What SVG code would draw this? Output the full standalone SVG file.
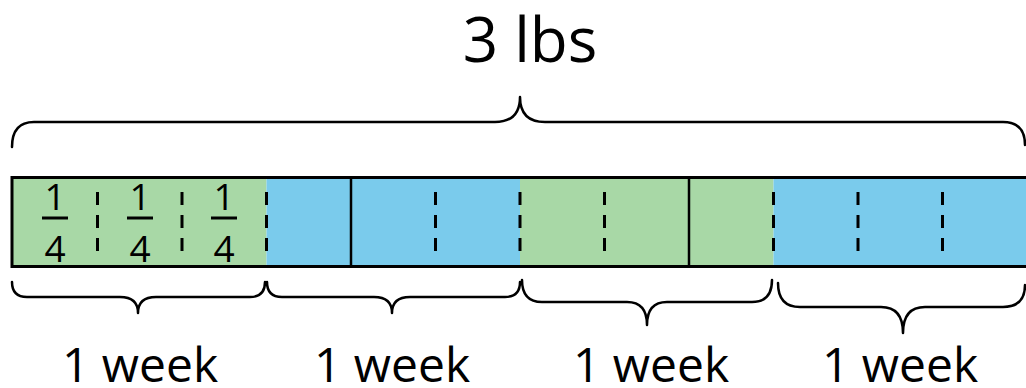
<svg xmlns="http://www.w3.org/2000/svg" width="1026" height="388" viewBox="0 0 1026 388">
<style>
.green{fill:#a8d8a6}
.blue{fill:#7acbec}
.border{fill:none;stroke:#000;stroke-width:3}
.solid{stroke:#000;stroke-width:2.5}
.dash{stroke:#000;stroke-width:3;stroke-dasharray:13 10}
.brace{fill:none;stroke:#000;stroke-width:2.5;stroke-linecap:round;stroke-linejoin:round}
.fbar{stroke:#000;stroke-width:3}
.t{font-family:"Open Sans","Liberation Sans",sans-serif;fill:#000;text-anchor:middle}
.frac{font-size:37px}
.week{font-size:48px}
.title{font-size:62px}
</style>
<rect width="1026" height="388" fill="#fff"/>
<g id="bar">
<rect class="green" x="13" y="178" width="253.5" height="88"/>
<rect class="blue" x="266.5" y="178" width="253.5" height="88"/>
<rect class="green" x="520" y="178" width="253.5" height="88"/>
<rect class="blue" x="773.5" y="178" width="253.5" height="88"/>
<line class="dash" x1="97.5" y1="192" x2="97.5" y2="254"/>
<line class="dash" x1="182" y1="192" x2="182" y2="254"/>
<line class="dash" x1="266.5" y1="192" x2="266.5" y2="254"/>
<line class="solid" x1="351" y1="178" x2="351" y2="266"/>
<line class="dash" x1="435.5" y1="192" x2="435.5" y2="254"/>
<line class="dash" x1="520" y1="192" x2="520" y2="254"/>
<line class="dash" x1="604.5" y1="192" x2="604.5" y2="254"/>
<line class="solid" x1="689" y1="178" x2="689" y2="266"/>
<line class="dash" x1="773.5" y1="192" x2="773.5" y2="254"/>
<line class="dash" x1="858" y1="192" x2="858" y2="254"/>
<line class="dash" x1="942.5" y1="192" x2="942.5" y2="254"/>
<rect class="border" x="12" y="177.5" width="1020" height="89"/>
</g>
<g id="fractions">
<g id="frac1">
<text class="t frac" x="55" y="210">1</text>
<line class="fbar" x1="42" y1="218" x2="68" y2="218"/>
<text class="t frac" x="55" y="262">4</text>
</g>
<g id="frac2">
<text class="t frac" x="140" y="210">1</text>
<line class="fbar" x1="127" y1="218" x2="153" y2="218"/>
<text class="t frac" x="140" y="262">4</text>
</g>
<g id="frac3">
<text class="t frac" x="224" y="210">1</text>
<line class="fbar" x1="211" y1="218" x2="237" y2="218"/>
<text class="t frac" x="224" y="262">4</text>
</g>
</g>
<g id="braces">
<path class="brace" d="M12,147 Q12,122 34,122 L495,122 Q520,122 520,97 Q520,122 545,122 L1003,122 Q1025,122 1025,145"/>
<path class="brace" d="M12,282 Q12,297 27,297 L120,297 Q138,297 138,313 Q138,297 156,297 L250,297 Q265,297 265,282"/>
<path class="brace" d="M267,282 Q267,297 282,297 L374,297 Q392,297 392,313 Q392,297 410,297 L505,297 Q520,297 520,282"/>
<path class="brace" d="M522,280 Q522,302 542,302 L627,302 Q647,302 647,325 Q647,302 667,302 L752,302 Q772,302 772,280"/>
<path class="brace" d="M778,283 Q778,307 800,307 L881,307 Q903,307 903,333 Q903,307 925,307 L1003,307 Q1025,307 1025,285"/>
</g>
<g id="labels">
<text class="t title" x="530" y="62">3 lbs</text>
<text class="t week" x="140" y="382">1 week</text>
<text class="t week" x="392" y="382">1 week</text>
<text class="t week" x="651" y="382">1 week</text>
<text class="t week" x="900" y="382">1 week</text>
</g>
</svg>
